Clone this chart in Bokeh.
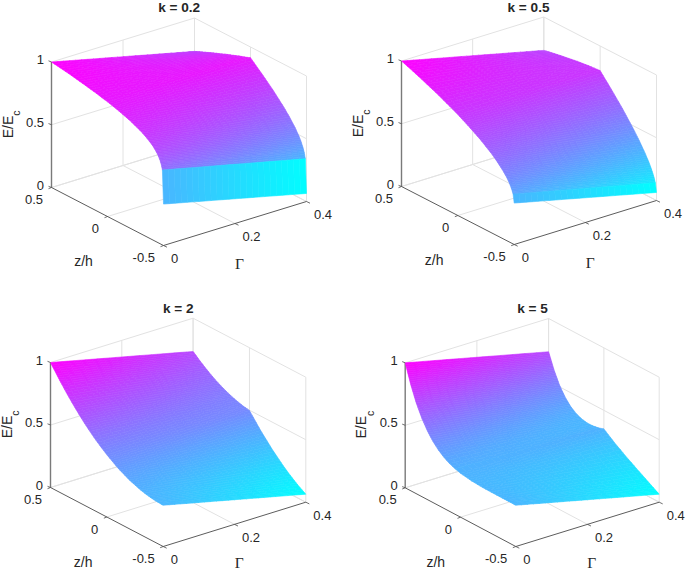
import math
from bokeh.core.properties import value
from bokeh.embed import file_html
from bokeh.layouts import gridplot
from bokeh.models import ColumnDataSource, Range1d
from bokeh.plotting import figure
from bokeh.resources import INLINE

# ---- values (E/Ec along the two Gamma edges of each surface) ----
GAMMA_EDGES = [0.0, 0.4]
Z_SAMPLES = [0.5, 0.45, 0.4, 0.35, 0.3, 0.25, 0.2, 0.15, 0.1, 0.05, 0.0, -0.1, -0.2, -0.3,
             -0.35, -0.4, -0.43, -0.45, -0.47, -0.48, -0.49, -0.5]

K02_G0 = [1.000, .993, .986, .979, .971, .962, .954, .944, .935, .924, .914, .888, .857, .816,
          .788, .753, .723, .698, .662, .636, .597, .330]
K02_G4 = [.734, .754, .773, .793, .811, .829, .848, .864, .882, .897, .914, .835, .751, .656,
          .602, .540, .494, .459, .412, .381, .336, .064]
K05_G0 = [1.000, .983, .966, .948, .929, .910, .891, .870, .849, .827, .804, .753, .697, .630,
          .589, .542, .508, .480, .446, .424, .397, .330]
K05_G4 = [.734, .744, .753, .762, .769, .777, .785, .790, .796, .800, .804, .700, .591, .470,
          .403, .329, .279, .241, .196, .169, .136, .064]
K2_G0 = [1.000, .935, .873, .814, .759, .707, .658, .613, .571, .533, .498, .437, .390, .357,
         .345, .337, .333, .332, .331, .330, .330, .330]
K2_G4 = [.734, .696, .660, .628, .599, .574, .552, .533, .518, .506, .498, .384, .284, .197,
         .159, .124, .104, .093, .081, .075, .069, .064]
K5_G0 = [1.000, .849, .725, .627, .550, .489, .443, .408, .382, .364, .351, .337, .331, .330,
         .330, .330, .330, .330, .330, .330, .330, .330]
K5_G4 = [.734, .610, .512, .441, .390, .356, .337, .328, .329, .337, .351, .284, .225, .170,
         .144, .117, .101, .091, .080, .075, .069, .064]

TITLES = ["k = 0.2", "k = 0.5", "k = 2", "k = 5"]
SURFACES = [(K02_G0, K02_G4), (K05_G0, K05_G4), (K2_G0, K2_G4), (K5_G0, K5_G4)]

E_TICKS = [0, 0.5, 1]
E_TICK_LABELS = ["0", "0.5", "1"]
Z_TICKS = [0.5, 0, -0.5]
Z_TICK_LABELS = ["0.5", "0", "-0.5"]
G_TICKS = [0, 0.2, 0.4]
G_TICK_LABELS = ["0", "0.2", "0.4"]

E_MIN, E_MAX = 0.064, 1.0

# ---- view of each 3-D box on the page (left, front, right floor corners, height of E=1) ----
FRAMES = [
    dict(box=(0, 0, 342, 285), L=(51, 187), F=(163, 245), R=(306, 201), H=125.5, title=(178.7, 7)),
    dict(box=(342, 0, 343, 285), L=(401, 186), F=(513.7, 244), R=(656, 200), H=125.5, title=(528, 7)),
    dict(box=(0, 285, 342, 285), L=(50, 487), F=(162.7, 546), R=(305.3, 501.7), H=125, title=(177.7, 308.3)),
    dict(box=(342, 285, 343, 285), L=(404.7, 487.3), F=(515.3, 546), R=(658.7, 501.7), H=125, title=(532, 308.3)),
]

TEXT = "#262626"
GRID = "#e2e2e2"
AXIS = "#4a4a4a"
SANS = value("Liberation Sans")
SERIF = value("Liberation Serif")


def proj(fr, g, z, e):
    a = 0.5 - z
    b = g / GAMMA_EDGES[1]
    x = fr["L"][0] + a * (fr["F"][0] - fr["L"][0]) + b * (fr["R"][0] - fr["F"][0])
    y = fr["L"][1] + a * (fr["F"][1] - fr["L"][1]) + b * (fr["R"][1] - fr["F"][1]) - e * fr["H"]
    return x, y


def cool(e):
    t = max(0.0, min(1.0, (e - E_MIN) / (E_MAX - E_MIN)))
    return "#%02x%02x%02x" % (round(255 * t), round(255 * (1 - t)), 255)


def seg(p, fr, a, b, color, width):
    x0, y0 = proj(fr, *a)
    x1, y1 = proj(fr, *b)
    p.line([x0, x1], [y0, y1], line_color=color, line_width=width)


def label(p, x, y, text, size, font=SANS, align="center", style="normal", angle=0.0):
    p.text([x], [y], text=[text], text_font=font, text_font_size=f"{size}px", text_color=TEXT,
           text_align=align, text_baseline="middle", text_font_style=style, angle=angle)


def surface(p, fr, e0, e1):
    # The read samples fix the surface; each cell between them is split only so that its
    # colour can be shaded. The strip nearest z/h=-0.5 stays one flat facet, as in the picture.
    xs, ys, cs = [], [], []
    ncol = 24
    g_hi = GAMMA_EDGES[1]
    for i in range(len(Z_SAMPLES) - 1):
        dmax = max(abs(e0[i + 1] - e0[i]), abs(e1[i + 1] - e1[i]))
        nrow = 1 if i == len(Z_SAMPLES) - 2 else max(1, math.ceil(dmax / 0.015))
        for r in range(nrow):
            f0, f1 = r / nrow, (r + 1) / nrow
            z0 = Z_SAMPLES[i] + f0 * (Z_SAMPLES[i + 1] - Z_SAMPLES[i])
            z1 = Z_SAMPLES[i] + f1 * (Z_SAMPLES[i + 1] - Z_SAMPLES[i])
            a0 = e0[i] + f0 * (e0[i + 1] - e0[i])
            a1 = e1[i] + f0 * (e1[i + 1] - e1[i])
            b0 = e0[i] + f1 * (e0[i + 1] - e0[i])
            b1 = e1[i] + f1 * (e1[i + 1] - e1[i])
            for c in range(ncol):
                u0, u1 = c / ncol, (c + 1) / ncol
                g0, g1 = u0 * g_hi, u1 * g_hi
                pts = [proj(fr, g0, z0, a0 + u0 * (a1 - a0)),
                       proj(fr, g1, z0, a0 + u1 * (a1 - a0)),
                       proj(fr, g1, z1, b0 + u1 * (b1 - b0)),
                       proj(fr, g0, z1, b0 + u0 * (b1 - b0))]
                xs.append([q[0] for q in pts])
                ys.append([q[1] for q in pts])
                cs.append(cool(b0 + u0 * (b1 - b0)))
    src = ColumnDataSource(dict(xs=xs, ys=ys, c=cs))
    p.patches("xs", "ys", source=src, fill_color="c", line_color="c", line_width=0.6)


def panel(fr, title, e0, e1):
    bx, by, w, h = fr["box"]
    p = figure(width=w, height=h, output_backend="svg", toolbar_location=None,
               x_range=Range1d(bx, bx + w), y_range=Range1d(by + h, by),
               x_axis_location=None, y_axis_location=None, min_border=0,
               outline_line_color=None, background_fill_color="white", border_fill_color="white")
    p.grid.visible = False
    g_hi = GAMMA_EDGES[1]
    # back walls and floor
    for e in E_TICKS:
        seg(p, fr, (0, 0.5, e), (g_hi, 0.5, e), GRID, 1)
        seg(p, fr, (g_hi, 0.5, e), (g_hi, -0.5, e), GRID, 1)
    for g in G_TICKS[1:]:
        seg(p, fr, (g, 0.5, 0), (g, 0.5, 1), GRID, 1)
        seg(p, fr, (g, 0.5, 0), (g, -0.5, 0), GRID, 1)
    for z in Z_TICKS[:2]:
        seg(p, fr, (g_hi, z, 0), (g_hi, z, 1), GRID, 1)
        seg(p, fr, (0, z, 0), (g_hi, z, 0), GRID, 1)
    seg(p, fr, (g_hi, -0.5, 0), (g_hi, -0.5, 1), GRID, 1)
    # axes
    seg(p, fr, (0, 0.5, 0), (0, 0.5, 1), "#7a7a7a", 1.4)
    seg(p, fr, (0, 0.5, 0), (0, -0.5, 0), AXIS, 0.9)
    seg(p, fr, (0, -0.5, 0), (g_hi, -0.5, 0), AXIS, 0.9)
    surface(p, fr, e0, e1)
    # ticks and tick labels
    for e, t in zip(E_TICKS, E_TICK_LABELS):
        x, y = proj(fr, 0, 0.5, e)
        p.line([x, x - 3], [y, y - 1.2], line_color=AXIS, line_width=0.8)
        label(p, x - 7.5, y - 2.5, t, 13, align="right")
    for z, t in zip(Z_TICKS, Z_TICK_LABELS):
        x, y = proj(fr, 0, z, 0)
        p.line([x, x - 3], [y, y + 1.2], line_color=AXIS, line_width=0.8)
        label(p, x - 8.5, y + 12, t, 13, align="right")
    for g, t in zip(G_TICKS, G_TICK_LABELS):
        x, y = proj(fr, g, -0.5, 0)
        p.line([x, x + 3.5], [y, y + 1.7], line_color=AXIS, line_width=0.8)
        label(p, x + 7.5, y + 13, t, 13, align="left")
    # axis titles
    lx, ly = fr["L"]
    fx, fy = fr["F"]
    label(p, lx - 44, ly - 60.5, "E/E", 14, angle=math.pi / 2)
    label(p, lx - 35.5, ly - 74.5, "c", 10.5, angle=math.pi / 2)
    label(p, fx - 80, fy + 15.5, "z/h", 14)
    label(p, fx + 76, min(fy + 17.5, by + h - 8.5), "\u0393", 15.5, font=SERIF)
    label(p, fr["title"][0], fr["title"][1], title, 13.6, style="bold")
    return p


figs = [panel(fr, t, s[0], s[1]) for fr, t, s in zip(FRAMES, TITLES, SURFACES)]
root = gridplot([[figs[0], figs[1]], [figs[2], figs[3]]], toolbar_location=None)
open("out.html", "w").write(file_html(root, INLINE))
